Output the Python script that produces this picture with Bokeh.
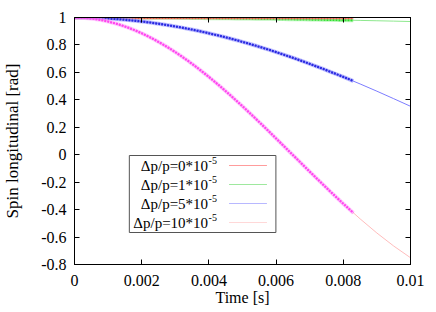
from bokeh.plotting import figure
from bokeh.models import Range1d, FixedTicker, LinearAxis
from bokeh.core.properties import value
from bokeh.embed import file_html
from bokeh.resources import INLINE

# ---------------- data ----------------
t_pts = [0.0, 0.0002, 0.0004, 0.0006, 0.0008, 0.0010, 0.0012, 0.0014, 0.0016, 0.0018,
         0.0020, 0.0022, 0.0024, 0.0026, 0.0028, 0.0030, 0.0032, 0.0034, 0.0036, 0.0038,
         0.0040, 0.0042, 0.0044, 0.0046, 0.0048, 0.0050, 0.0052, 0.0054, 0.0056, 0.0058,
         0.0060, 0.0062, 0.0064, 0.0066, 0.0068, 0.0070, 0.0072, 0.0074, 0.0076, 0.0078,
         0.0080, 0.0082, 0.0083]
red_pts = [1.0] * 43
green_pts = [1.0, 1.0, 0.99995, 0.9999, 0.9998, 0.9997, 0.9996, 0.9994, 0.9993, 0.9991,
             0.9988, 0.9986, 0.9983, 0.9980, 0.9977, 0.9974, 0.9970, 0.9966, 0.9962, 0.9958,
             0.9953, 0.9948, 0.9943, 0.9938, 0.9933, 0.9927, 0.9921, 0.9915, 0.9908, 0.9901,
             0.9895, 0.9887, 0.9880, 0.9872, 0.9865, 0.9857, 0.9848, 0.9840, 0.9831, 0.9822,
             0.9813, 0.9803, 0.9798]
blue_pts = [1.0, 0.9997, 0.9988, 0.9974, 0.9953, 0.9927, 0.9895, 0.9857, 0.9813, 0.9764,
            0.9709, 0.9648, 0.9581, 0.9509, 0.9432, 0.9348, 0.9260, 0.9166, 0.9066, 0.8961,
            0.8852, 0.8736, 0.8616, 0.8491, 0.8360, 0.8225, 0.8085, 0.7940, 0.7791, 0.7637,
            0.7478, 0.7315, 0.7148, 0.6977, 0.6801, 0.6621, 0.6438, 0.6251, 0.6060, 0.5865,
            0.5669, 0.5469, 0.5368]
pink_pts = [1.0, 0.9988, 0.9953, 0.9895, 0.9813, 0.9709, 0.9581, 0.9432, 0.9260, 0.9066,
            0.8852, 0.8616, 0.8360, 0.8085, 0.7791, 0.7478, 0.7148, 0.6801, 0.6438, 0.6060,
            0.5669, 0.5264, 0.4847, 0.4418, 0.3979, 0.3530, 0.3073, 0.2609, 0.2139, 0.1664,
            0.1185, 0.0703, 0.0220, -0.0264, -0.0747, -0.1229, -0.1708, -0.2182, -0.2652, -0.3115,
            -0.3572, -0.4020, -0.4240]

t_line = [0.0, 0.0005, 0.0010, 0.0015, 0.0020, 0.0025, 0.0030, 0.0035, 0.0040, 0.0045,
          0.0050, 0.0055, 0.0060, 0.0065, 0.0070, 0.0075, 0.0080, 0.0085, 0.0090, 0.0095, 0.0100]
red_line = [1.0] * 21
green_line = [1.0, 0.9999, 0.9997, 0.9993, 0.9988, 0.9982, 0.9974, 0.9964, 0.9953, 0.9941,
              0.9927, 0.9911, 0.9895, 0.9876, 0.9857, 0.9835, 0.9813, 0.9788, 0.9763, 0.9736, 0.9707]
blue_line = [1.0, 0.9982, 0.9927, 0.9836, 0.9709, 0.9546, 0.9348, 0.9117, 0.8852, 0.8554,
             0.8225, 0.7866, 0.7478, 0.7063, 0.6621, 0.6156, 0.5669, 0.5158, 0.4629, 0.4084, 0.3530]
pink_line = [1.0, 0.9927, 0.9709, 0.9348, 0.8852, 0.8225, 0.7478, 0.6621, 0.5669, 0.4629,
             0.3530, 0.2375, 0.1185, -0.0022, -0.1229, -0.2418, -0.3572, -0.4673, -0.5706, -0.6654, -0.7508]

legend_main = ["\u0394p/p=0*10", "\u0394p/p=1*10", "\u0394p/p=5*10", "\u0394p/p=10*10"]
legend_sup = ["-5", "-5", "-5", "-5"]

x_ticks = [0.0, 0.002, 0.004, 0.006, 0.008, 0.01]
x_labels = ["0", "0.002", "0.004", "0.006", "0.008", "0.01"]
y_ticks = [-0.8, -0.6, -0.4, -0.2, 0.0, 0.2, 0.4, 0.6, 0.8, 1.0]
y_labels = ["-0.8", "-0.6", "-0.4", "-0.2", "0", "0.2", "0.4", "0.6", "0.8", "1"]

# ---------------- styles ----------------
FONT = "Liberation Serif"
line_colors = ["#ff8a8a", "#8ee88e", "#7c7cff", "#ffbcbc"]
legend_line_colors = ["#ff9c9c", "#9ee89e", "#b8b8ff", "#ffd8d8"]
pt_colors = ["#ff3030", "#30e030", "#2a2ae0", "#ff44f0"]
halo_colors = ["#ff9090", "#90f090", "#9a9aff", "#ffaaff"]

X0, X1, Y0, Y1 = 0.0, 0.01, -0.8, 1.0
W, H = 436, 312
FL, FR, FT, FB = 73.0, 410.0, 17.0, 264.0
p = figure(width=W, height=H, output_backend="svg", toolbar_location=None,
           x_range=Range1d(X0, X1), y_range=Range1d(Y0, Y1))
p.min_border_left = int(FL)
p.min_border_right = int(W - FR)
p.min_border_top = int(FT)
p.min_border_bottom = int(H - FB)
p.background_fill_color = "white"
p.border_fill_color = "white"
p.outline_line_color = "black"
p.outline_line_width = 1
p.grid.visible = False

def dx(px):
    return X0 + (px - FL) / (FR - FL) * (X1 - X0)
def dy(py):
    return Y1 - (py - FT) / (FB - FT) * (Y1 - Y0)

for ys, c in zip([red_line, green_line, blue_line, pink_line], line_colors):
    p.line(t_line, ys, line_color=c, line_width=1)

for ys, c, h in zip([green_pts, red_pts, blue_pts, pink_pts],
                    [pt_colors[1], pt_colors[0], pt_colors[2], pt_colors[3]],
                    [halo_colors[1], halo_colors[0], halo_colors[2], halo_colors[3]]):
    p.line(t_pts, ys, line_color=h, line_width=4, line_alpha=0.6)
    p.line(t_pts, ys, line_color=c, line_width=2.3, line_dash="2 1")

def style_axis(ax, labels=True):
    ax.axis_line_color = "black"
    ax.major_tick_line_color = "black"
    ax.major_tick_in = 5
    ax.major_tick_out = 0
    ax.minor_tick_line_color = None
    ax.major_label_text_font = FONT
    ax.major_label_text_font_size = "16px"
    ax.major_label_text_color = "black"
    ax.axis_label_text_font = FONT
    ax.axis_label_text_font_size = "17px"
    ax.axis_label_text_font_style = "normal"
    ax.axis_label_text_color = "black"
    if not labels:
        ax.major_label_text_alpha = 0
        ax.major_label_text_font_size = "1px"
        ax.major_label_standoff = 0

xa = p.xaxis[0]
xa.ticker = FixedTicker(ticks=x_ticks)
xa.major_label_overrides = {v: s for v, s in zip(x_ticks, x_labels)}
xa.axis_label = "Time [s]"
style_axis(xa)
xa.axis_label_text_font_size = "16px"
xa.major_label_standoff = 10
xa.axis_label_standoff = 0

ya = p.yaxis[0]
ya.ticker = FixedTicker(ticks=y_ticks)
ya.major_label_overrides = {v: s for v, s in zip(y_ticks, y_labels)}
ya.axis_label = "Spin longitudinal [rad]"
style_axis(ya)
ya.major_label_standoff = 8
ya.axis_label_standoff = 16

top = LinearAxis(ticker=FixedTicker(ticks=x_ticks))
style_axis(top, labels=False)
p.add_layout(top, "above")
right = LinearAxis(ticker=FixedTicker(ticks=y_ticks))
style_axis(right, labels=False)
p.add_layout(right, "right")

p.quad(left=[dx(128)], right=[dx(275)], top=[dy(155)], bottom=[dy(232)],
       fill_color="white", line_color="#555555", line_width=1)
rows_py = [165, 184, 203, 222]
for i, py in enumerate(rows_py):
    p.text(x=[dx(207)], y=[dy(py)], text=[legend_main[i]], text_align="right",
           text_baseline="middle", text_font=value(FONT), text_font_size="15px",
           text_color="black")
    p.text(x=[dx(207.5)], y=[dy(py - 5)], text=[legend_sup[i]], text_align="left",
           text_baseline="middle", text_font=value(FONT), text_font_size="10px",
           text_color="black")
    p.segment(x0=[dx(228)], x1=[dx(266)], y0=[dy(py)], y1=[dy(py)],
              line_color=legend_line_colors[i], line_width=1.2)

open("out.html", "w").write(file_html(p, INLINE))
